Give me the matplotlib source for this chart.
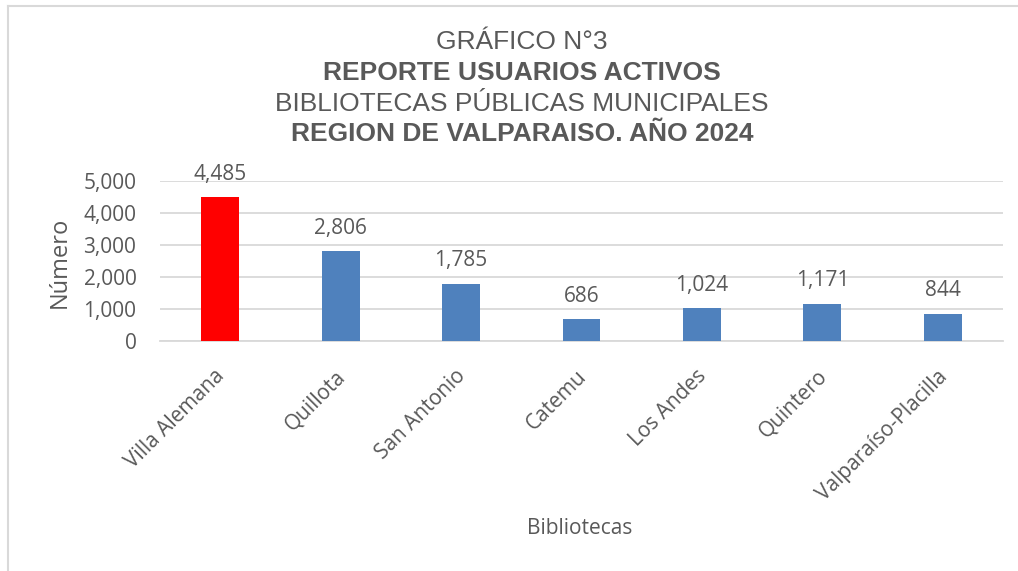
import matplotlib
matplotlib.use("Agg")
import matplotlib.pyplot as plt
from matplotlib.lines import Line2D
from matplotlib.transforms import ScaledTranslation

categories = ["Villa Alemana", "Quillota", "San Antonio", "Catemu", "Los Andes", "Quintero", "Valparaíso-Placilla"]
values = [4485, 2806, 1785, 686, 1024, 1171, 844]
bar_colors = ["#FF0000", "#4F81BD", "#4F81BD", "#4F81BD", "#4F81BD", "#4F81BD", "#4F81BD"]
yticks = [0, 1000, 2000, 3000, 4000, 5000]
title_lines = [("GRÁFICO N°3", "normal"), ("REPORTE USUARIOS ACTIVOS", "bold"),
               ("BIBLIOTECAS PÚBLICAS MUNICIPALES", "normal"), ("REGION DE VALPARAISO. AÑO 2024", "bold")]

W, H = 1018, 571
fig = plt.figure(figsize=(W / 100, H / 100), dpi=100)
txt = "#595959"
body_font = "Open Sans"

ax = fig.add_axes([160 / W, 1 - 341 / H, (1003 - 160) / W, (341 - 181) / H])
x = list(range(len(categories)))
ax.bar(x, values, width=0.315, color=bar_colors, zorder=3)
ax.set_xlim(-0.5, len(categories) - 0.5)
ax.set_ylim(0, 5000)
ax.set_yticks(yticks)
ax.set_yticklabels([f"{v:,}" for v in yticks], fontsize=15, color=txt, family=body_font)
ax.yaxis.grid(True, color="#D9D9D9", linewidth=1.3, zorder=0)
for s in ["top", "right", "left"]:
    ax.spines[s].set_visible(False)
ax.spines["bottom"].set_color("#D9D9D9")
ax.spines["bottom"].set_linewidth(1.3)
ax.tick_params(axis="both", length=0)
ax.tick_params(axis="y", pad=17)
ax.set_xticks(x)
ax.set_xticklabels(categories, rotation=45, ha="right", va="top", rotation_mode="anchor",
                   fontsize=15, color=txt, family=body_font)
ax.tick_params(axis="x", pad=10)
shift = ScaledTranslation(-6 / 100, -11 / 100, fig.dpi_scale_trans)
for lab in ax.get_xticklabels():
    lab.set_transform(lab.get_transform() + shift)

for xi, v in zip(x, values):
    ax.annotate(f"{v:,}", (xi, v), xytext=(0, 9), textcoords="offset points",
                ha="center", va="bottom", fontsize=15, color=txt, family=body_font, clip_on=False)

fig.text(60 / W, 1 - 262 / H, "Número", rotation=90, ha="center", va="center",
         fontsize=17, color=txt, family=body_font)
fig.text(580 / W, 1 - 528 / H, "Bibliotecas", ha="center", va="center",
         fontsize=15, color=txt, family=body_font)

ys = [42, 73, 104, 134]
for (t, w), yy in zip(title_lines, ys):
    fig.text(522 / W, 1 - yy / H, t, ha="center", va="center", fontsize=19,
             fontweight=w, color=txt, family="Liberation Sans")

fig.add_artist(Line2D([8 / W, 8 / W], [0, 1 - 6 / H], transform=fig.transFigure, color="#D9D9D9", lw=1.5))
fig.add_artist(Line2D([8 / W, 1], [1 - 6 / H, 1 - 6 / H], transform=fig.transFigure, color="#D9D9D9", lw=1.5))

fig.savefig("out.png", dpi=100)
